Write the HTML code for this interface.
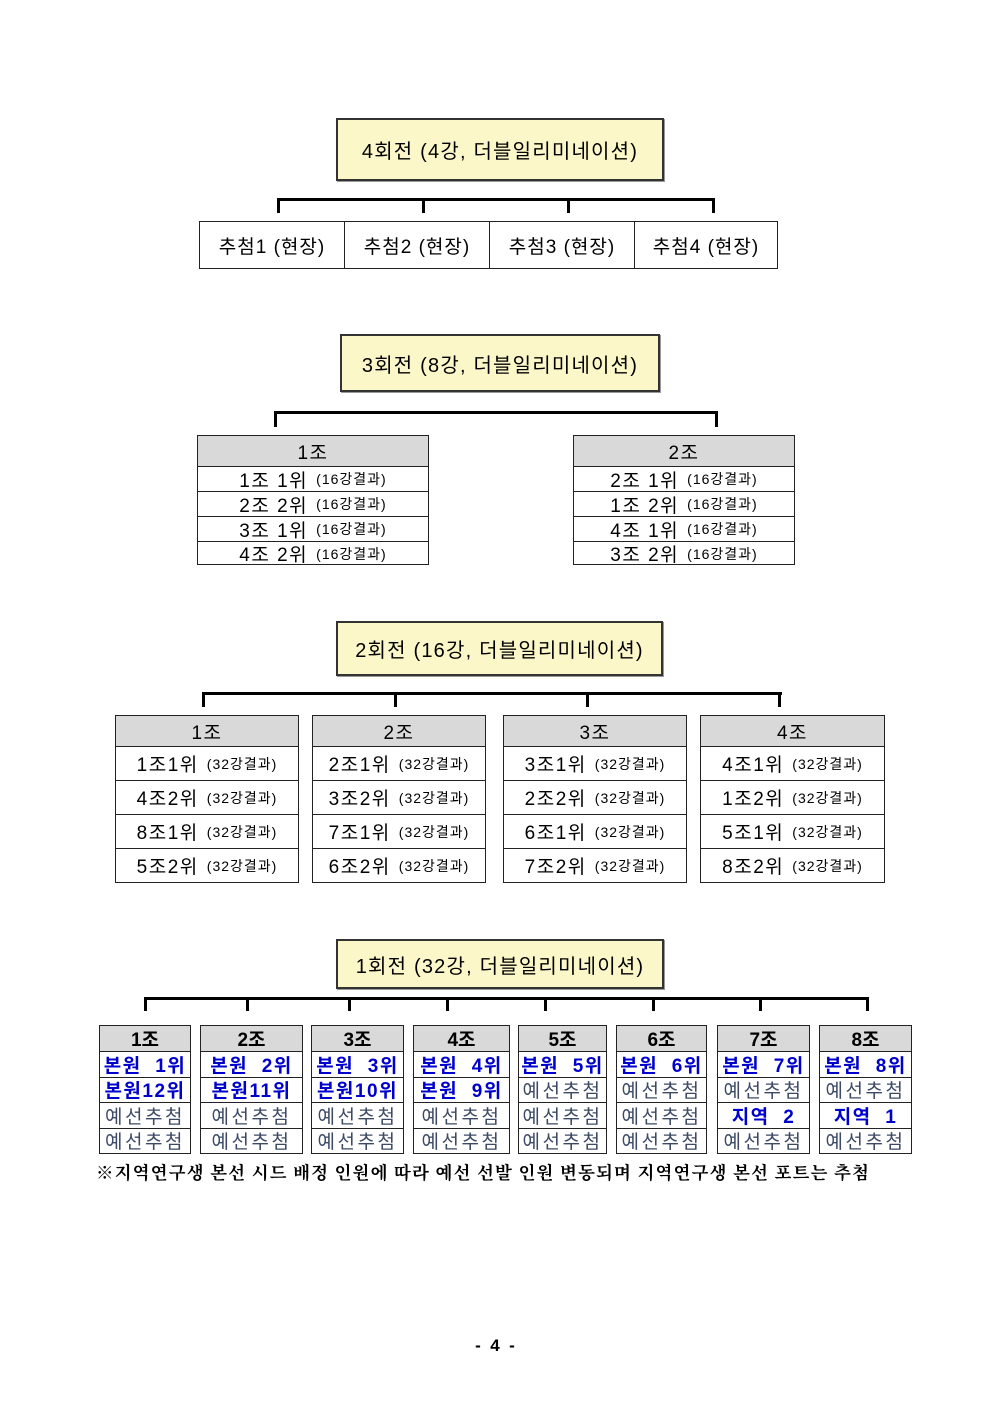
<!DOCTYPE html>
<html><head><meta charset="utf-8"><style>
body{margin:0;width:992px;height:1403px;background:#fff;position:relative;overflow:hidden;font-family:"Liberation Sans","Noto Sans CJK KR",sans-serif;color:#000}
.a{position:absolute;box-sizing:border-box}
.title{border:2px solid #333;background:#fbf7c8;font-size:20px;letter-spacing:1.2px;display:flex;align-items:center;justify-content:center;box-shadow:1px 1px 0 #999}
.h{background:#000}
.t{border:1px solid #222;letter-spacing:1.5px}
.t div{box-sizing:border-box;border-top:1px solid #222;display:flex;align-items:center;justify-content:center;white-space:pre}
.t div:first-child{border-top:none;background:#d9d9d9}
.s{font-size:14px;margin-left:8px;letter-spacing:1px}
.b{color:#0000cc;font-weight:bold}
.g{color:#3c4a66}
.r1{letter-spacing:2.5px}
.r1 div{font-size:19px;height:25.5px}
.r1 div:first-child{font-weight:bold;height:25px;letter-spacing:0}
.b{letter-spacing:1.5px}
</style></head><body>

<!-- Round 4 -->
<div class="a title" style="left:336px;top:118px;width:328px;height:63px">4회전 (4강, 더블일리미네이션)</div>
<div class="a h" style="left:277px;top:198px;width:438px;height:3px"></div>
<div class="a h" style="left:277px;top:198px;width:3px;height:15px"></div>
<div class="a h" style="left:422px;top:198px;width:3px;height:15px"></div>
<div class="a h" style="left:567px;top:198px;width:3px;height:15px"></div>
<div class="a h" style="left:712px;top:198px;width:3px;height:15px"></div>
<div class="a" style="left:199px;top:221px;width:579px;height:48px;border:1px solid #222;display:flex;font-size:19px;letter-spacing:1px">
<div style="width:144px;border-right:1px solid #222;display:flex;align-items:center;justify-content:center">추첨1 (현장)</div>
<div style="width:144px;border-right:1px solid #222;display:flex;align-items:center;justify-content:center">추첨2 (현장)</div>
<div style="width:144px;border-right:1px solid #222;display:flex;align-items:center;justify-content:center">추첨3 (현장)</div>
<div style="flex:1;display:flex;align-items:center;justify-content:center">추첨4 (현장)</div>
</div>

<!-- Round 3 -->
<div class="a title" style="left:340px;top:334px;width:320px;height:58px">3회전 (8강, 더블일리미네이션)</div>
<div class="a h" style="left:274px;top:411px;width:444px;height:3px"></div>
<div class="a h" style="left:274px;top:411px;width:3px;height:16px"></div>
<div class="a h" style="left:715px;top:411px;width:3px;height:16px"></div>
<div class="a t" style="left:197px;top:435px;width:232px;height:130px;font-size:19px">
<div style="height:30px">1조</div>
<div style="height:25px">1조 1위<span class="s">(16강결과)</span></div>
<div style="height:25px">2조 2위<span class="s">(16강결과)</span></div>
<div style="height:25px">3조 1위<span class="s">(16강결과)</span></div>
<div style="height:24px">4조 2위<span class="s">(16강결과)</span></div>
</div>
<div class="a t" style="left:573px;top:435px;width:222px;height:130px;font-size:19px">
<div style="height:30px">2조</div>
<div style="height:25px">2조 1위<span class="s">(16강결과)</span></div>
<div style="height:25px">1조 2위<span class="s">(16강결과)</span></div>
<div style="height:25px">4조 1위<span class="s">(16강결과)</span></div>
<div style="height:24px">3조 2위<span class="s">(16강결과)</span></div>
</div>

<!-- Round 2 -->
<div class="a title" style="left:336px;top:621px;width:327px;height:55px">2회전 (16강, 더블일리미네이션)</div>
<div class="a h" style="left:202px;top:692px;width:580px;height:3px"></div>
<div class="a h" style="left:202px;top:692px;width:3px;height:15px"></div>
<div class="a h" style="left:394px;top:692px;width:3px;height:15px"></div>
<div class="a h" style="left:586px;top:692px;width:3px;height:15px"></div>
<div class="a h" style="left:778px;top:692px;width:3px;height:15px"></div>

<div class="a t" style="left:115px;top:715px;width:184px;height:168px;font-size:19px">
<div style="height:30px">1조</div>
<div style="height:34px">1조1위<span class="s">(32강결과)</span></div>
<div style="height:34px">4조2위<span class="s">(32강결과)</span></div>
<div style="height:34px">8조1위<span class="s">(32강결과)</span></div>
<div style="height:34px">5조2위<span class="s">(32강결과)</span></div>
</div>
<div class="a t" style="left:312px;top:715px;width:174px;height:168px;font-size:19px">
<div style="height:30px">2조</div>
<div style="height:34px">2조1위<span class="s">(32강결과)</span></div>
<div style="height:34px">3조2위<span class="s">(32강결과)</span></div>
<div style="height:34px">7조1위<span class="s">(32강결과)</span></div>
<div style="height:34px">6조2위<span class="s">(32강결과)</span></div>
</div>
<div class="a t" style="left:503px;top:715px;width:184px;height:168px;font-size:19px">
<div style="height:30px">3조</div>
<div style="height:34px">3조1위<span class="s">(32강결과)</span></div>
<div style="height:34px">2조2위<span class="s">(32강결과)</span></div>
<div style="height:34px">6조1위<span class="s">(32강결과)</span></div>
<div style="height:34px">7조2위<span class="s">(32강결과)</span></div>
</div>
<div class="a t" style="left:700px;top:715px;width:185px;height:168px;font-size:19px">
<div style="height:30px">4조</div>
<div style="height:34px">4조1위<span class="s">(32강결과)</span></div>
<div style="height:34px">1조2위<span class="s">(32강결과)</span></div>
<div style="height:34px">5조1위<span class="s">(32강결과)</span></div>
<div style="height:34px">8조2위<span class="s">(32강결과)</span></div>
</div>

<!-- Round 1 -->
<div class="a title" style="left:336px;top:939px;width:328px;height:50px">1회전 (32강, 더블일리미네이션)</div>
<div class="a h" style="left:144px;top:997px;width:725px;height:3px"></div>
<div class="a h" style="left:144px;top:997px;width:3px;height:14px"></div>
<div class="a h" style="left:246px;top:997px;width:3px;height:14px"></div>
<div class="a h" style="left:348px;top:997px;width:3px;height:14px"></div>
<div class="a h" style="left:446px;top:997px;width:3px;height:14px"></div>
<div class="a h" style="left:544px;top:997px;width:3px;height:14px"></div>
<div class="a h" style="left:652px;top:997px;width:3px;height:14px"></div>
<div class="a h" style="left:759px;top:997px;width:3px;height:14px"></div>
<div class="a h" style="left:866px;top:997px;width:3px;height:14px"></div>

<div class="a t r1" style="left:99px;top:1025px;width:92px;height:129px"><div>1조</div><div class="b">본원  1위</div><div class="b">본원12위</div><div class="g">예선추첨</div><div class="g">예선추첨</div></div>
<div class="a t r1" style="left:200px;top:1025px;width:103px;height:129px"><div>2조</div><div class="b">본원  2위</div><div class="b">본원11위</div><div class="g">예선추첨</div><div class="g">예선추첨</div></div>
<div class="a t r1" style="left:311px;top:1025px;width:93px;height:129px"><div>3조</div><div class="b">본원  3위</div><div class="b">본원10위</div><div class="g">예선추첨</div><div class="g">예선추첨</div></div>
<div class="a t r1" style="left:413px;top:1025px;width:97px;height:129px"><div>4조</div><div class="b">본원  4위</div><div class="b">본원  9위</div><div class="g">예선추첨</div><div class="g">예선추첨</div></div>
<div class="a t r1" style="left:518px;top:1025px;width:89px;height:129px"><div>5조</div><div class="b">본원  5위</div><div class="g">예선추첨</div><div class="g">예선추첨</div><div class="g">예선추첨</div></div>
<div class="a t r1" style="left:616px;top:1025px;width:91px;height:129px"><div>6조</div><div class="b">본원  6위</div><div class="g">예선추첨</div><div class="g">예선추첨</div><div class="g">예선추첨</div></div>
<div class="a t r1" style="left:717px;top:1025px;width:93px;height:129px"><div>7조</div><div class="b">본원  7위</div><div class="g">예선추첨</div><div class="b">지역  2</div><div class="g">예선추첨</div></div>
<div class="a t r1" style="left:819px;top:1025px;width:93px;height:129px"><div>8조</div><div class="b">본원  8위</div><div class="g">예선추첨</div><div class="b">지역  1</div><div class="g">예선추첨</div></div>

<div class="a" style="left:96px;top:1160px;width:820px;font-family:'Liberation Serif','Noto Serif CJK SC',serif;font-weight:bold;font-size:17.5px;letter-spacing:1.1px;white-space:nowrap">※지역연구생 본선 시드 배정 인원에 따라 예선 선발 인원 변동되며 지역연구생 본선 포트는 추첨</div>

<div class="a" style="left:465px;top:1336px;width:60px;text-align:center;font-weight:bold;font-size:17px;white-space:pre">-  4  -</div>
</body></html>
